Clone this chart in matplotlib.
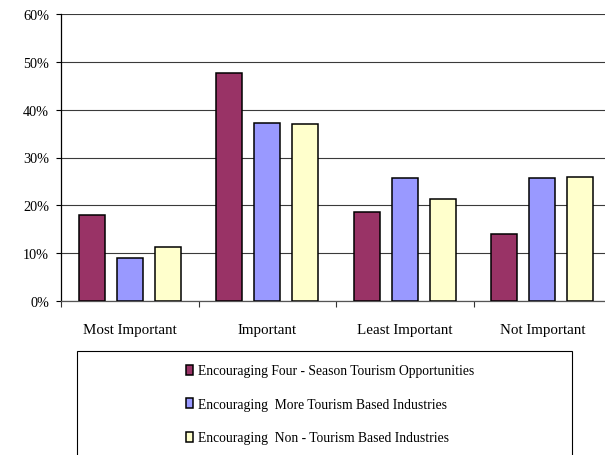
import matplotlib
matplotlib.use("Agg")
import matplotlib.pyplot as plt
import numpy as np
from matplotlib.patches import Rectangle

categories = ["Most Important", "Important", "Least Important", "Not Important"]
series_names = [
    "Encouraging Four - Season Tourism Opportunities",
    "Encouraging  More Tourism Based Industries",
    "Encouraging  Non - Tourism Based Industries",
]
four_season = [17.9, 47.7, 18.7, 14.1]
more_tourism = [9.0, 37.2, 25.7, 25.7]
non_tourism = [11.2, 36.9, 21.3, 26.0]
y_ticks = [0, 10, 20, 30, 40, 50, 60]
y_tick_labels = ["0%", "10%", "20%", "30%", "40%", "50%", "60%"]

colors = ["#993366", "#9999FF", "#FFFFCC"]
serif = "Liberation Serif"

W, H = 605, 456
fig = plt.figure(figsize=(W / 100, H / 100), dpi=100)
ax = fig.add_axes([61 / W, (H - 302) / H, (611 - 61) / W, (302 - 15) / H])

x = np.arange(len(categories))
width = 0.19
offset = 0.276
for i, (vals, c, name) in enumerate(zip([four_season, more_tourism, non_tourism], colors, series_names)):
    ax.bar(x + (i - 1) * offset, vals, width, color=c, edgecolor="black",
           linewidth=1.1, label=name, zorder=3)

ax.set_xlim(-0.5, len(categories) - 0.5)
ax.set_ylim(0, 60)
ax.set_yticks(y_ticks)
ax.set_yticklabels(y_tick_labels, fontfamily=serif, fontsize=10.3)
ax.set_xticks(x)
ax.set_xticklabels(categories, fontfamily=serif, fontsize=10.8)
ax.set_xticks(np.arange(len(categories) + 1) - 0.5, minor=True)

ax.tick_params(axis="x", which="major", length=0, pad=16)
ax.tick_params(axis="x", which="minor", length=4, width=0.8, direction="out", color="#333333")
ax.tick_params(axis="y", which="major", length=3.5, width=0.8, direction="out", pad=5)

ax.yaxis.grid(True, color="#3a3a3a", linewidth=0.8, zorder=0)
ax.set_axisbelow(True)
for s in ["top", "right"]:
    ax.spines[s].set_visible(False)
ax.spines["left"].set_linewidth(0.9)
ax.spines["bottom"].set_color("#555555")
ax.spines["bottom"].set_linewidth(0.9)

# legend frame
fig.patches.append(Rectangle((77 / W, -0.05), (572 - 77) / W, 0.05 + (H - 352) / H,
                             transform=fig.transFigure, fill=False,
                             edgecolor="black", linewidth=0.8))
leg = fig.legend(loc="upper left", bbox_to_anchor=(181 / W, (H - 360) / H),
                 frameon=False, prop={"family": serif, "size": 9.8},
                 handlelength=0.5, handleheight=0.75, handletextpad=0.35,
                 labelspacing=1.5, borderaxespad=0)

fig.savefig("out.png", dpi=100)
